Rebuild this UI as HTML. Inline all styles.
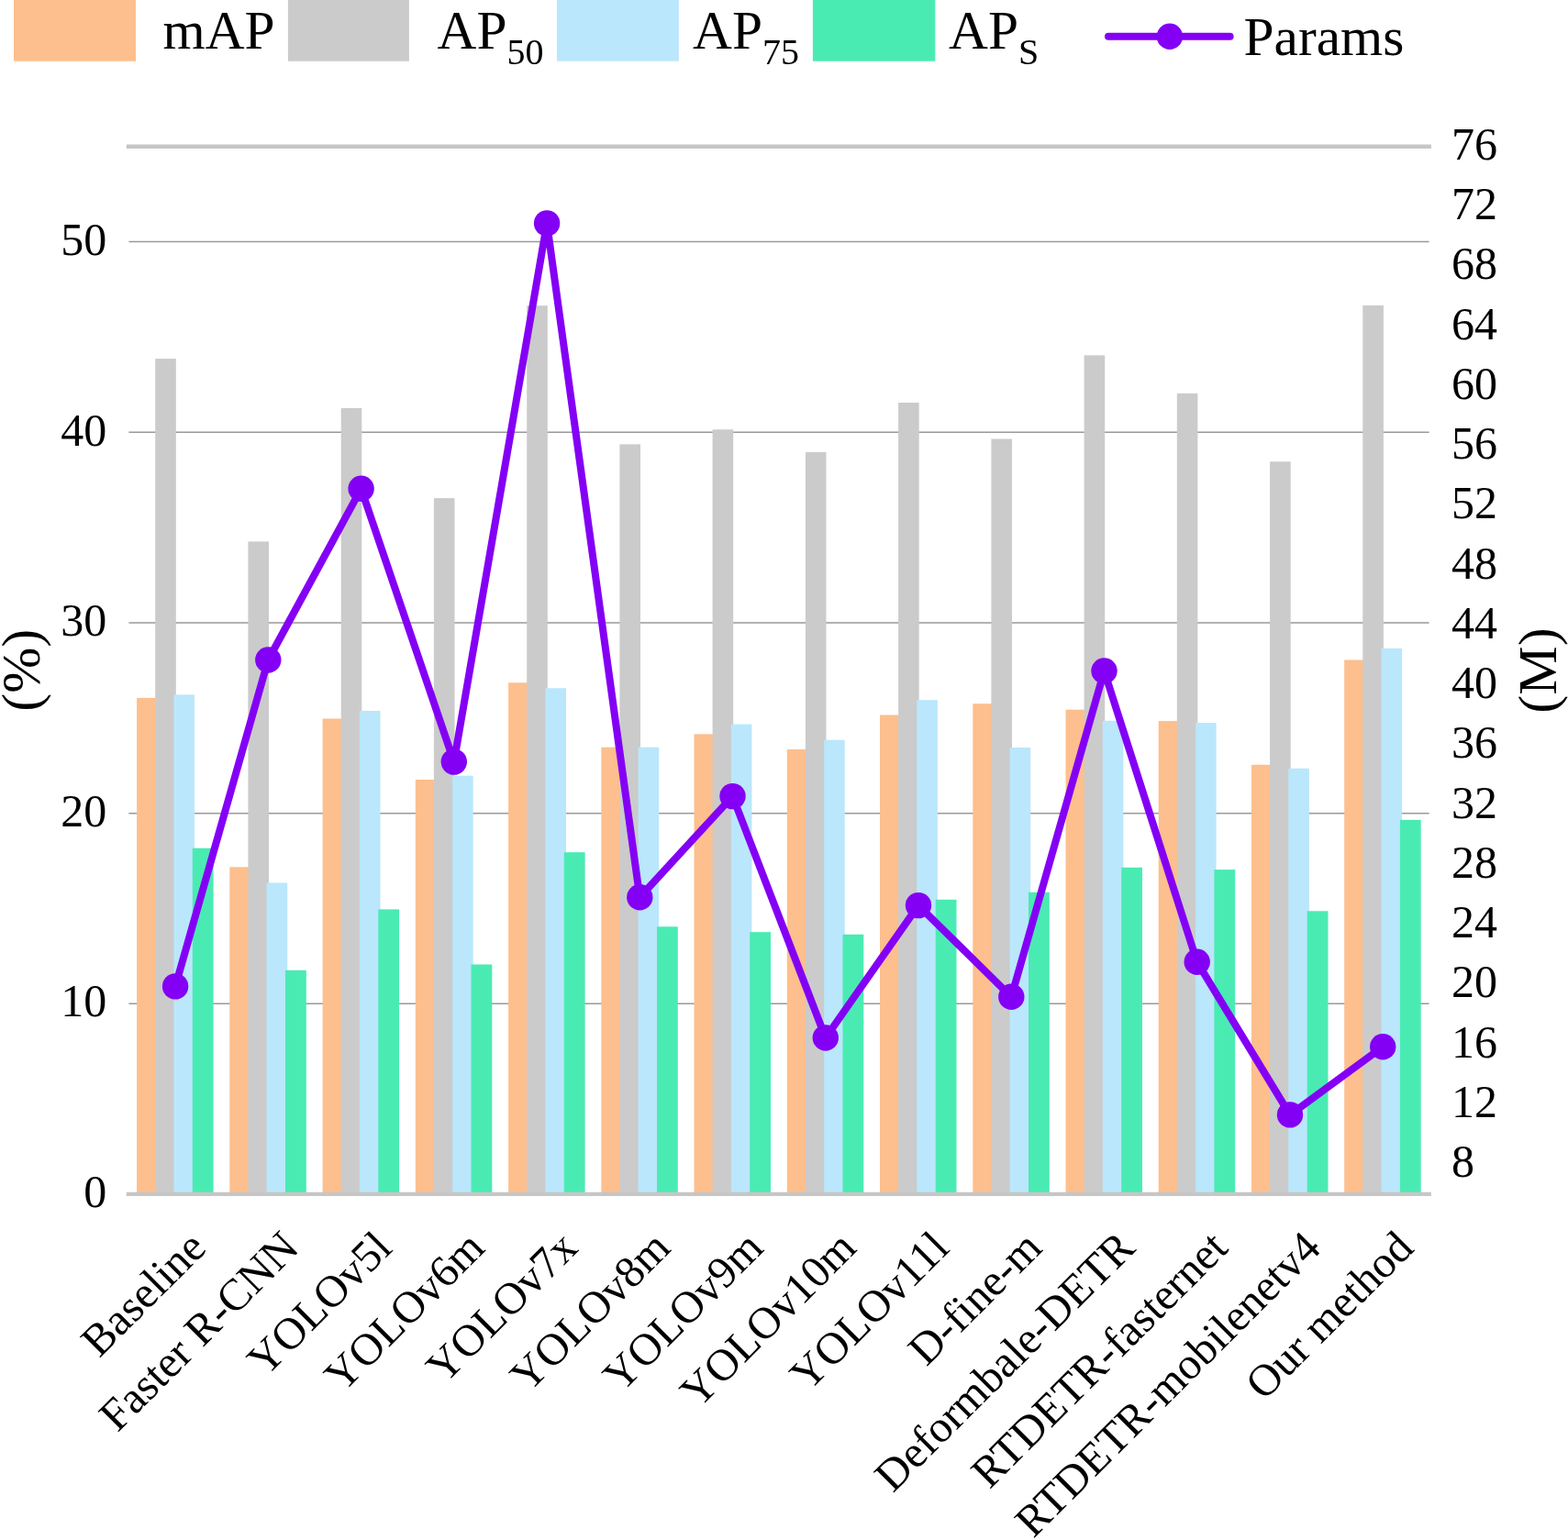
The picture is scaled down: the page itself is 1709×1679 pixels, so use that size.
<!DOCTYPE html>
<html lang="en"><head><meta charset="utf-8"><title>Detection performance vs. parameters</title>
<style>html,body{margin:0;padding:0;background:#fff}body{width:1709px;height:1679px;overflow:hidden}svg{display:block}text{font-family:"Liberation Serif",serif;fill:#000}</style>
</head><body>
<svg width="1709" height="1679" viewBox="0 0 1709 1679">
<rect width="1709" height="1679" fill="#fff"/>
<g stroke="#999999" stroke-width="1.5">
<line x1="140.4" y1="1094.36" x2="1557.6" y2="1094.36"/>
<line x1="140.4" y1="886.67" x2="1557.6" y2="886.67"/>
<line x1="140.4" y1="678.98" x2="1557.6" y2="678.98"/>
<line x1="140.4" y1="471.29" x2="1557.6" y2="471.29"/>
<line x1="140.4" y1="263.60" x2="1557.6" y2="263.60"/>
</g>
<line x1="137.8" y1="159.8" x2="1559.9" y2="159.8" stroke="#C6C6C6" stroke-width="4.4"/>
<g fill="#FDBF8D">
<rect x="149.1" y="760.9" width="22.6" height="540.6"/>
<rect x="250.3" y="945.3" width="22.6" height="356.2"/>
<rect x="351.6" y="783.5" width="22.6" height="518.0"/>
<rect x="452.8" y="850.0" width="22.6" height="451.5"/>
<rect x="554.1" y="744.3" width="22.6" height="557.2"/>
<rect x="655.3" y="814.7" width="22.6" height="486.8"/>
<rect x="756.5" y="800.4" width="22.6" height="501.1"/>
<rect x="857.8" y="817.0" width="22.6" height="484.5"/>
<rect x="959.0" y="779.5" width="22.6" height="522.0"/>
<rect x="1060.3" y="767.2" width="22.6" height="534.3"/>
<rect x="1161.5" y="773.7" width="22.6" height="527.8"/>
<rect x="1262.7" y="786.1" width="22.6" height="515.4"/>
<rect x="1364.0" y="833.8" width="22.6" height="467.7"/>
<rect x="1465.2" y="719.5" width="22.6" height="582.0"/>
</g>
<g fill="#CBCBCB">
<rect x="169.2" y="391.1" width="22.6" height="910.4"/>
<rect x="270.4" y="590.4" width="22.6" height="711.1"/>
<rect x="371.7" y="445.0" width="22.6" height="856.5"/>
<rect x="472.9" y="543.1" width="22.6" height="758.4"/>
<rect x="574.2" y="333.2" width="22.6" height="968.3"/>
<rect x="675.4" y="484.4" width="22.6" height="817.1"/>
<rect x="776.6" y="468.3" width="22.6" height="833.2"/>
<rect x="877.9" y="493.0" width="22.6" height="808.5"/>
<rect x="979.1" y="439.0" width="22.6" height="862.5"/>
<rect x="1080.4" y="478.5" width="22.6" height="823.0"/>
<rect x="1181.6" y="387.4" width="22.6" height="914.1"/>
<rect x="1282.8" y="428.9" width="22.6" height="872.6"/>
<rect x="1384.1" y="503.3" width="22.6" height="798.2"/>
<rect x="1485.3" y="333.0" width="22.6" height="968.5"/>
</g>
<g fill="#BAE7FC">
<rect x="189.4" y="757.4" width="22.6" height="544.1"/>
<rect x="290.6" y="962.5" width="22.6" height="339.0"/>
<rect x="391.9" y="775.0" width="22.6" height="526.5"/>
<rect x="493.1" y="845.7" width="22.6" height="455.8"/>
<rect x="594.4" y="750.3" width="22.6" height="551.2"/>
<rect x="695.6" y="814.7" width="22.6" height="486.8"/>
<rect x="796.8" y="789.6" width="22.6" height="511.9"/>
<rect x="898.1" y="806.7" width="22.6" height="494.8"/>
<rect x="999.3" y="763.2" width="22.6" height="538.3"/>
<rect x="1100.6" y="815.0" width="22.6" height="486.5"/>
<rect x="1201.8" y="785.8" width="22.6" height="515.7"/>
<rect x="1303.0" y="788.1" width="22.6" height="513.4"/>
<rect x="1404.3" y="837.8" width="22.6" height="463.7"/>
<rect x="1505.5" y="706.9" width="22.6" height="594.6"/>
</g>
<g fill="#4AEBB3">
<rect x="209.8" y="924.7" width="22.8" height="376.8"/>
<rect x="311.0" y="1057.8" width="22.8" height="243.7"/>
<rect x="412.3" y="991.4" width="22.8" height="310.1"/>
<rect x="513.5" y="1051.5" width="22.8" height="250.0"/>
<rect x="614.8" y="929.2" width="22.8" height="372.3"/>
<rect x="716.0" y="1010.3" width="22.8" height="291.2"/>
<rect x="817.2" y="1016.2" width="22.8" height="285.3"/>
<rect x="918.5" y="1018.8" width="22.8" height="282.7"/>
<rect x="1019.7" y="980.8" width="22.8" height="320.7"/>
<rect x="1121.0" y="972.8" width="22.8" height="328.7"/>
<rect x="1222.2" y="945.8" width="22.8" height="355.7"/>
<rect x="1323.4" y="948.1" width="22.8" height="353.4"/>
<rect x="1424.7" y="993.3" width="22.8" height="308.2"/>
<rect x="1525.9" y="893.9" width="22.8" height="407.6"/>
</g>
<line x1="137.8" y1="1301.9" x2="1559.9" y2="1301.9" stroke="#C6C6C6" stroke-width="4.2"/>
<polyline points="191.1,1075.4 292.3,719.5 393.6,532.8 494.8,830.6 596.1,243.4 697.3,978.3 798.5,868.1 899.8,1131.5 1001.0,987.1 1102.3,1086.8 1203.5,731.5 1304.7,1048.8 1406.0,1215.4 1507.2,1141.2" fill="none" stroke="#8400F5" stroke-width="8" stroke-linejoin="round" stroke-linecap="round"/>
<g fill="#8400F5">
<circle cx="191.1" cy="1075.4" r="14.2"/>
<circle cx="292.3" cy="719.5" r="14.2"/>
<circle cx="393.6" cy="532.8" r="14.2"/>
<circle cx="494.8" cy="830.6" r="14.2"/>
<circle cx="596.1" cy="243.4" r="14.2"/>
<circle cx="697.3" cy="978.3" r="14.2"/>
<circle cx="798.5" cy="868.1" r="14.2"/>
<circle cx="899.8" cy="1131.5" r="14.2"/>
<circle cx="1001.0" cy="987.1" r="14.2"/>
<circle cx="1102.3" cy="1086.8" r="14.2"/>
<circle cx="1203.5" cy="731.5" r="14.2"/>
<circle cx="1304.7" cy="1048.8" r="14.2"/>
<circle cx="1406.0" cy="1215.4" r="14.2"/>
<circle cx="1507.2" cy="1141.2" r="14.2"/>
</g>
<g font-size="50" text-anchor="end">
<text x="116.3" y="1316.0">0</text>
<text x="116.3" y="1108.4">10</text>
<text x="116.3" y="900.8">20</text>
<text x="116.3" y="693.2">30</text>
<text x="116.3" y="485.6">40</text>
<text x="116.3" y="278.0">50</text>
</g>
<g font-size="50">
<text x="1582" y="1283.2">8</text>
<text x="1582" y="1217.9">12</text>
<text x="1582" y="1152.6">16</text>
<text x="1582" y="1087.4">20</text>
<text x="1582" y="1022.1">24</text>
<text x="1582" y="956.9">28</text>
<text x="1582" y="891.6">32</text>
<text x="1582" y="826.4">36</text>
<text x="1582" y="761.1">40</text>
<text x="1582" y="695.8">44</text>
<text x="1582" y="630.6">48</text>
<text x="1582" y="565.3">52</text>
<text x="1582" y="500.1">56</text>
<text x="1582" y="434.8">60</text>
<text x="1582" y="369.6">64</text>
<text x="1582" y="304.3">68</text>
<text x="1582" y="239.1">72</text>
<text x="1582" y="173.8">76</text>
</g>
<text font-size="60" text-anchor="middle" transform="translate(42.7 730.7) rotate(-90)">(%)</text>
<text font-size="60" text-anchor="middle" transform="translate(1695.8 731.0) rotate(-90)">(M)</text>
<g font-size="48.7" text-anchor="end">
<text transform="translate(226.7 1362.7) rotate(-45)">Baseline</text>
<text transform="translate(327.9 1362.7) rotate(-45)">Faster R-CNN</text>
<text transform="translate(429.2 1362.7) rotate(-45)">YOLOv5l</text>
<text transform="translate(530.4 1362.7) rotate(-45)">YOLOv6m</text>
<text transform="translate(631.7 1362.7) rotate(-45)">YOLOv7x</text>
<text transform="translate(732.9 1362.7) rotate(-45)">YOLOv8m</text>
<text transform="translate(834.1 1362.7) rotate(-45)">YOLOv9m</text>
<text transform="translate(935.4 1362.7) rotate(-45)">YOLOv10m</text>
<text transform="translate(1036.6 1362.7) rotate(-45)">YOLOv11l</text>
<text transform="translate(1137.9 1362.7) rotate(-45)">D-fine-m</text>
<text transform="translate(1239.1 1362.7) rotate(-45)">Deformbale-DETR</text>
<text transform="translate(1340.3 1362.7) rotate(-45)">RTDETR-fasternet</text>
<text transform="translate(1441.6 1362.7) rotate(-45)">RTDETR-mobilenetv4</text>
<text transform="translate(1542.8 1362.7) rotate(-45)">Our method</text>
</g>
<rect x="15.0" y="0" width="133.0" height="66.7" fill="#FDBF8D"/>
<rect x="313.9" y="0" width="132.0" height="66.7" fill="#CBCBCB"/>
<rect x="606.9" y="0" width="132.9" height="66.7" fill="#BAE7FC"/>
<rect x="885.9" y="0" width="133.4" height="66.7" fill="#4AEBB3"/>
<line x1="1208" y1="39.8" x2="1340.6" y2="39.8" stroke="#8400F5" stroke-width="8" stroke-linecap="round"/>
<circle cx="1274.9" cy="39.8" r="14.2" fill="#8400F5"/>
<g font-size="59.4">
<text x="177.5" y="53.2">mAP</text>
<text x="476.5" y="53.2">AP<tspan font-size="40" dy="17.2">50</tspan></text>
<text x="755" y="53.2">AP<tspan font-size="40" dy="17.2">75</tspan></text>
<text x="1034" y="53.2">AP<tspan font-size="40" dy="17.2">S</tspan></text>
<text x="1355.5" y="59.8">Params</text>
</g>
</svg></body></html>
